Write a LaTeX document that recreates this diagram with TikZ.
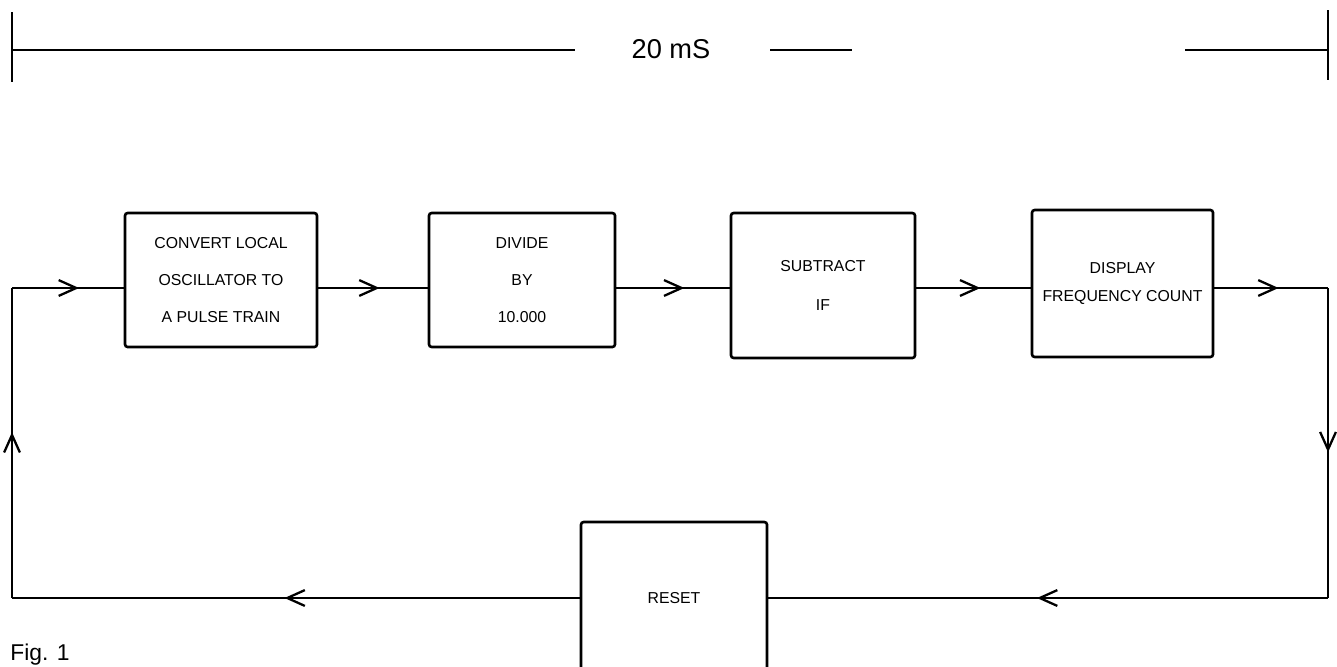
\documentclass[tikz,border=0pt]{standalone}
\usepackage{fontspec}
\setmainfont{Liberation Sans}
\usetikzlibrary{positioning, arrows.meta, decorations.markings}

\begin{document}
\begin{tikzpicture}[
    x=0.02cm, y=-0.02cm,
    block/.style={draw, line width=1.5pt, rounded corners=1.5pt, align=center,
                  font=\fontsize{9}{21}\selectfont, inner sep=0pt},
    wire/.style={line width=1pt},
    flow/.style={wire, decoration={markings, mark=at position #1 with
                 {\arrow{Straight Barb[length=10pt, width=9pt, line width=1.3pt]}}},
                 postaction={decorate}},
    span/.style={line width=1.2pt}
]
\useasboundingbox (0,0) rectangle (1337,666);

% time span
\coordinate (tl) at (12,50);
\coordinate (tr) at (1328,50);
\coordinate (ta) at (575,50);
\coordinate (tb) at (770,50);
\coordinate (tc) at (852,50);
\coordinate (td) at (1185,50);
\coordinate (tlu) at (12,12);
\coordinate (tld) at (12,82);
\coordinate (tru) at (1328,10);
\coordinate (trd) at (1328,80);
\node[font=\fontsize{15.5}{18}\selectfont] (period) at (671,49) {20 mS};
\draw[span] (tl) -- (ta);
\draw[span] (tb) -- (tc);
\draw[span] (td) -- (tr);
\draw[span] (tlu) -- (tld);
\draw[span] (tru) -- (trd);

% blocks
\node[block, minimum width=3.84cm, minimum height=2.68cm] (convert) at (221,280)
    {CONVERT LOCAL\\OSCILLATOR TO\\A PULSE TRAIN};
\node[block, minimum width=3.72cm, minimum height=2.68cm] (divide) at (522,280)
    {DIVIDE\\BY\\10.000};
\node[block, minimum width=3.68cm, minimum height=2.9cm, font=\fontsize{9}{22}\selectfont] (subtract) at (823,285.5)
    {SUBTRACT\\IF};
\node[block, minimum width=3.62cm, minimum height=2.94cm, font=\fontsize{9}{16}\selectfont] (display) at (1122.5,283.5)
    {DISPLAY\\FREQUENCY COUNT};
\node[block, minimum width=3.72cm, minimum height=3.04cm] (reset) at (674,598) {RESET};
\node[anchor=base west, inner sep=0pt, font=\fontsize{13}{15}\selectfont] (fig) at (10,660) {Fig. 1};

% loop corners
\coordinate (nw) at (12,288);
\coordinate (ne) at (1328,288);
\coordinate (se) at (1328,598);
\coordinate (sw) at (12,598);

\draw[flow=0.56] (convert.east |- nw) -- (divide.west |- nw);
\draw[flow=0.6] (divide.east |- nw) -- (subtract.west |- nw);
\draw[flow=0.56] (subtract.east |- nw) -- (display.west |- nw);
\draw[flow=0.565] (display.east |- nw) -- (ne);
\draw[flow=0.53] (ne) -- (se);
\draw[flow=0.52] (se) -- (reset.east);
\draw[flow=0.52] (reset.west) -- (sw);
\draw[flow=0.535] (sw) -- (nw);
\draw[flow=0.6] (nw) -- (convert.west |- nw);
\end{tikzpicture}
\end{document}
